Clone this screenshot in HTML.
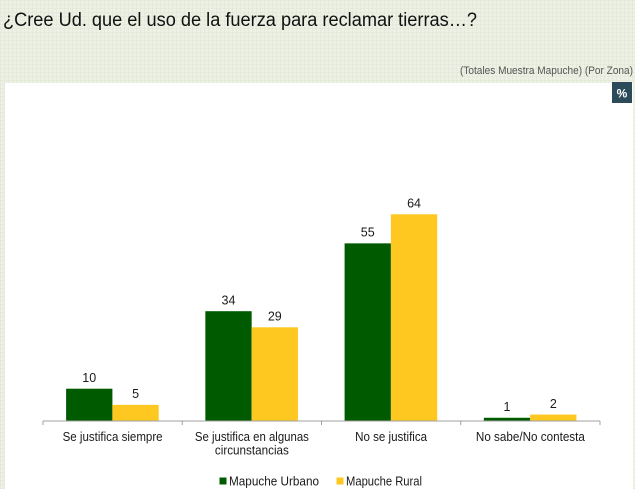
<!DOCTYPE html>
<html>
<head>
<meta charset="utf-8">
<style>
  html,body{margin:0;padding:0;}
  body{width:635px;height:489px;overflow:hidden;background:#edf0e4;
    background-image:
      repeating-linear-gradient(0deg, rgba(210,220,195,0.25) 0px, rgba(210,220,195,0.25) 1px, transparent 1px, transparent 4px),
      repeating-linear-gradient(90deg, rgba(210,220,195,0.25) 0px, rgba(210,220,195,0.25) 1px, transparent 1px, transparent 4px);
  }
  svg{display:block;font-family:"Liberation Sans", Arial, sans-serif;}
</style>
</head>
<body>
<svg width="635" height="489" viewBox="0 0 635 489" xmlns="http://www.w3.org/2000/svg">
  <!-- Title -->
  <text x="3" y="26" font-size="19" fill="#111" textLength="474" lengthAdjust="spacingAndGlyphs">¿Cree Ud. que el uso de la fuerza para reclamar tierras…?</text>
  <!-- Subtitle -->
  <text x="460" y="74" font-size="11" fill="#555" textLength="173" lengthAdjust="spacingAndGlyphs">(Totales Muestra Mapuche) (Por Zona)</text>

  <!-- White panel -->
  <rect x="5" y="83" width="628" height="406" fill="#ffffff"/>

  <!-- % box -->
  <rect x="612" y="82" width="20" height="21" fill="#2b4a5a"/>
  <text x="622" y="97.5" font-size="12" font-weight="bold" fill="#ffffff" text-anchor="middle">%</text>

  <!-- Bars: group 1 -->
  <rect x="66.1" y="388.7" width="46.3" height="32.3" fill="#005a00"/>
  <rect x="112.4" y="404.85" width="46.3" height="16.15" fill="#ffc820"/>
  <!-- group 2 -->
  <rect x="205.35" y="311.2" width="46.3" height="109.8" fill="#005a00"/>
  <rect x="251.65" y="327.3" width="46.3" height="93.7" fill="#ffc820"/>
  <!-- group 3 -->
  <rect x="344.6" y="243.35" width="46.3" height="177.65" fill="#005a00"/>
  <rect x="390.9" y="214.3" width="46.3" height="206.7" fill="#ffc820"/>
  <!-- group 4 -->
  <rect x="483.85" y="417.77" width="46.3" height="3.23" fill="#005a00"/>
  <rect x="530.15" y="414.54" width="46.3" height="6.46" fill="#ffc820"/>

  <!-- Axis -->
  <line x1="43" y1="421" x2="600" y2="421" stroke="#a0a0a0" stroke-width="1"/>
  <g stroke="#a0a0a0" stroke-width="1">
    <line x1="43" y1="421" x2="43" y2="425"/>
    <line x1="182.25" y1="421" x2="182.25" y2="425"/>
    <line x1="321.5" y1="421" x2="321.5" y2="425"/>
    <line x1="460.75" y1="421" x2="460.75" y2="425"/>
    <line x1="600" y1="421" x2="600" y2="425"/>
  </g>

  <!-- Value labels -->
  <g font-size="12.5" fill="#1a1a1a" text-anchor="middle">
    <text x="89.25" y="382">10</text>
    <text x="135.55" y="398">5</text>
    <text x="228.5" y="304.5">34</text>
    <text x="274.8" y="320.5">29</text>
    <text x="367.75" y="236.5">55</text>
    <text x="414.05" y="207.5">64</text>
    <text x="507" y="411">1</text>
    <text x="553.3" y="408">2</text>
  </g>

  <!-- Category labels -->
  <g font-size="12.5" fill="#1a1a1a" text-anchor="middle">
    <text x="112.6" y="441" textLength="100" lengthAdjust="spacingAndGlyphs">Se justifica siempre</text>
    <text x="251.9" y="441" textLength="114" lengthAdjust="spacingAndGlyphs">Se justifica en algunas</text>
    <text x="251.9" y="454.5" textLength="74" lengthAdjust="spacingAndGlyphs">circunstancias</text>
    <text x="391.1" y="441" textLength="72" lengthAdjust="spacingAndGlyphs">No se justifica</text>
    <text x="530.4" y="441" textLength="109" lengthAdjust="spacingAndGlyphs">No sabe/No contesta</text>
  </g>

  <!-- Legend -->
  <rect x="219.5" y="477.5" width="7" height="7" fill="#005a00"/>
  <text x="229" y="485.5" font-size="12.5" fill="#1a1a1a" textLength="90" lengthAdjust="spacingAndGlyphs">Mapuche Urbano</text>
  <rect x="336.5" y="477.5" width="7" height="7" fill="#ffc820"/>
  <text x="346" y="485.5" font-size="12.5" fill="#1a1a1a" textLength="76" lengthAdjust="spacingAndGlyphs">Mapuche Rural</text>
</svg>
</body>
</html>
